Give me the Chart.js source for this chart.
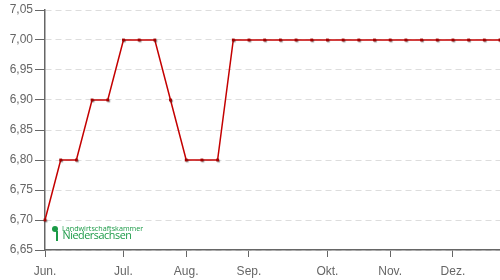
<!DOCTYPE html>
<html>
<head>
<meta charset="utf-8">
<script src="https://cdn.jsdelivr.net/npm/chart.js"></script>
<style>
  body { margin: 0; background: #fff; }
  #wrap { position: relative; width: 500px; height: 280px; }
  #wrap canvas { display: block; }
  .logo { position: absolute; color: #1a9a46; font-family: "Open Sans", sans-serif; line-height: 1; white-space: nowrap; }
  .dot { position: absolute; left: 52px; top: 226px; width: 6px; height: 6px; border-radius: 50%; background: #1a9a46; }
  .bar { position: absolute; left: 56px; top: 231px; width: 1.5px; height: 10px; background: #1a9a46; }
  .small { left: 62px; top: 224.5px; font-size: 7.2px; }
  .big { left: 62.5px; top: 230px; font-size: 10.8px; letter-spacing: -0.45px; }
</style>
</head>
<body>
<div id="wrap">
  <canvas id="chart" width="500" height="280"></canvas>
  <span class="dot"></span><span class="bar"></span>
  <span class="logo small">Landwirtschaftskammer</span>
  <span class="logo big">Niedersachsen</span>
</div>
<script>
// weekly price points, starting early June
const weeks = [0, 1, 2, 3, 4, 5, 6, 7, 8, 9, 10, 11, 12, 13, 14, 15, 16, 17, 18, 19, 20, 21, 22, 23, 24, 25, 26, 27, 28, 29];
const prices = [6.70, 6.80, 6.80, 6.90, 6.90, 7.00, 7.00, 7.00, 6.90, 6.80, 6.80, 6.80, 7.00, 7.00, 7.00,
                7.00, 7.00, 7.00, 7.00, 7.00, 7.00, 7.00, 7.00, 7.00, 7.00, 7.00, 7.00, 7.00, 7.00, 7.00];
// month labels and the week where each month starts
const monthWeeks = [0, 5, 9, 13, 18, 22, 26];
const monthLabels = ["Jun.", "Jul.", "Aug.", "Sep.", "Okt.", "Nov.", "Dez."];

const points = weeks.map((w, i) => ({x: w, y: prices[i]}));

// gray drop shadow under the point markers only
const shadowPlugin = {
    id: "pointShadow",
    beforeDatasetDraw(chart, args) {
        if (args.index !== 1) return;
        const ctx = chart.ctx;
        ctx.save();
        ctx.shadowColor = "rgba(0,0,0,0.4)";
        ctx.shadowOffsetX = 1;
        ctx.shadowOffsetY = 1;
        ctx.shadowBlur = 1;
    },
    afterDatasetDraw(chart, args) {
        if (args.index === 1) chart.ctx.restore();
    },
};

const font = {family: "'Liberation Sans', Arial, sans-serif", size: 12};

new Chart(document.getElementById("chart"), {
    type: "line",
    data: {
        datasets: [{
            data: points,
            borderColor: "#c40000",
            borderWidth: 1.5,
            pointRadius: 0,
            tension: 0,
            clip: false,
            order: 1,
        }, {
            data: points,
            showLine: false,
            pointStyle: "rect",
            pointRadius: 2,
            pointBackgroundColor: "#a00000",
            pointBorderColor: "#a00000",
            pointBorderWidth: 0,
            clip: false,
            order: 0,
        }],
    },
    options: {
        responsive: false,
        animation: false,
        layout: {autoPadding: false, padding: {top: 10, right: 0, left: 0, bottom: 0}},
        plugins: {legend: {display: false}, tooltip: {enabled: false}},
        scales: {
            x: {
                type: "linear",
                min: 0,
                max: 29,
                afterBuildTicks(scale) {
                    scale.ticks = monthWeeks.map(v => ({value: v}));
                },
                afterFit(scale) { scale.height = 30; },
                ticks: {
                    color: "#666",
                    font: font,
                    padding: 7,
                    maxRotation: 0,
                    autoSkip: false,
                    callback: v => monthLabels[monthWeeks.indexOf(v)],
                },
                grid: {drawOnChartArea: false, drawTicks: true, tickLength: 7, tickColor: "#666", tickWidth: 1},
                border: {color: "#666", width: 1.5},
            },
            y: {
                min: 6.65,
                max: 7.05,
                afterFit(scale) { scale.width = 45; },
                ticks: {
                    stepSize: 0.05,
                    color: "#666",
                    font: font,
                    padding: 2,
                    callback: v => v.toFixed(2).replace(".", ","),
                },
                grid: {color: "#dddddd", lineWidth: 1, tickLength: 10, tickColor: "#666", tickWidth: 1, tickBorderDash: []},
                border: {color: "#666", width: 1.5, dash: [6, 4]},
            },
        },
    },
    plugins: [shadowPlugin],
});
</script>
</body>
</html>
